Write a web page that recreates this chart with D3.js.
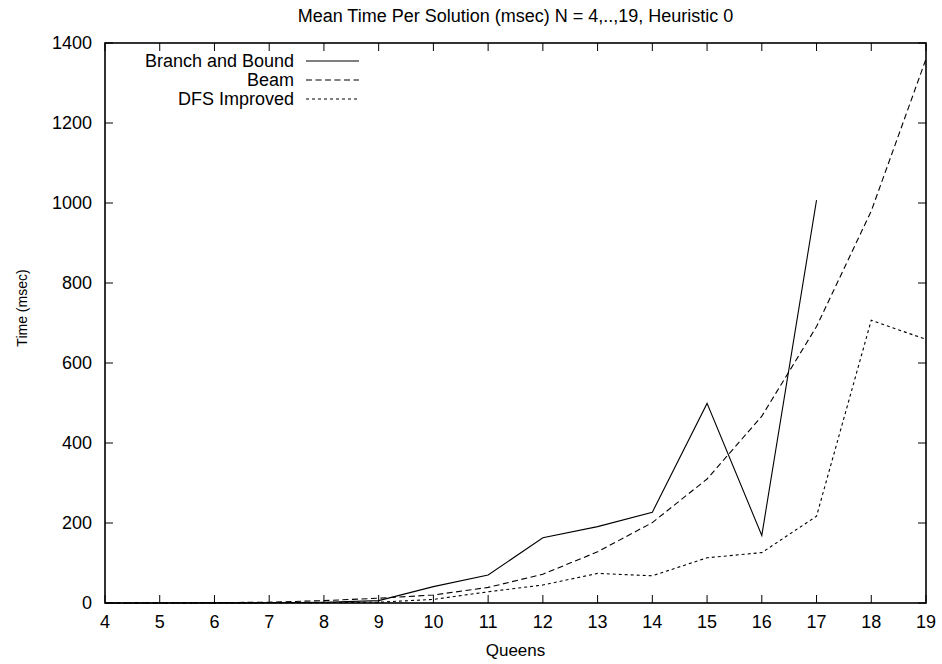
<!DOCTYPE html>
<html>
<head>
<meta charset="utf-8">
<script src="https://d3js.org/d3.v7.min.js"></script>
<style>
  body { margin: 0; background: #fff; }
  text { font-family: "Liberation Sans", Arial, sans-serif; fill: #000; }
  .line { fill: none; stroke: #000; stroke-width: 1.1px; }
</style>
</head>
<body>
<script>
// the data
var queens = [4, 5, 6, 7, 8, 9, 10, 11, 12, 13, 14, 15, 16, 17, 18, 19];
var branchAndBound = [0, 0, 0.2, 0.5, 2, 6, 41, 70, 163, 191, 227, 499, 169, 1007];
var beam = [0.1, 0.3, 1, 2, 6, 12, 20, 39, 72, 128, 201, 310, 467, 691, 980, 1360];
var dfsImproved = [0, 0.1, 0.2, 0.5, 1, 2, 9, 28, 45, 74, 68, 113, 126, 217, 707, 659];
var xTicks = [4, 5, 6, 7, 8, 9, 10, 11, 12, 13, 14, 15, 16, 17, 18, 19];
var yTicks = [0, 200, 400, 600, 800, 1000, 1200, 1400];

var seriesNames = ["Branch and Bound", "Beam", "DFS Improved"];
var seriesValues = [branchAndBound, beam, dfsImproved];
var seriesDash = ["none", "6,3.5", "3,3"];

// set the dimensions and margins of the graph
var margin = {top: 43, right: 16, bottom: 61, left: 105},
    width = 942 - margin.left - margin.right,
    height = 664 - margin.top - margin.bottom;

// set the ranges
var x = d3.scaleLinear().domain([4, 19]).range([0, width]);
var y = d3.scaleLinear().domain([0, 1400]).range([height, 0]);

// define the line
var line = d3.line()
    .x(function(d) { return x(d.q); })
    .y(function(d) { return y(d.v); });

var svg = d3.select("body").append("svg")
    .attr("width", 942)
    .attr("height", 664);

var g = svg.append("g")
    .attr("transform", "translate(" + margin.left + "," + margin.top + ")");

// title
svg.append("text")
    .attr("x", margin.left + width / 2)
    .attr("y", 22)
    .attr("text-anchor", "middle")
    .style("font-size", "18px")
    .text("Mean Time Per Solution (msec) N = 4,..,19, Heuristic 0");

// ticks on all four sides, pointing inward
var tick = 8;
xTicks.forEach(function(t) {
  g.append("line").attr("x1", x(t)).attr("x2", x(t)).attr("y1", height).attr("y2", height - tick)
      .attr("stroke", "#000");
  g.append("line").attr("x1", x(t)).attr("x2", x(t)).attr("y1", 0).attr("y2", tick)
      .attr("stroke", "#000");
  g.append("text")
      .attr("x", x(t))
      .attr("y", height + 25)
      .attr("text-anchor", "middle")
      .style("font-size", "18px")
      .text(t);
});
yTicks.forEach(function(t) {
  g.append("line").attr("x1", 0).attr("x2", tick).attr("y1", y(t)).attr("y2", y(t))
      .attr("stroke", "#000");
  g.append("line").attr("x1", width).attr("x2", width - tick).attr("y1", y(t)).attr("y2", y(t))
      .attr("stroke", "#000");
  g.append("text")
      .attr("x", -13)
      .attr("y", y(t))
      .attr("dy", "0.35em")
      .attr("text-anchor", "end")
      .style("font-size", "18px")
      .text(t);
});

// frame
g.append("rect")
    .attr("width", width)
    .attr("height", height)
    .attr("fill", "none")
    .attr("stroke", "#000")
    .attr("stroke-width", 1.6);

// axis labels
svg.append("text")
    .attr("x", margin.left + width / 2)
    .attr("y", 656)
    .attr("text-anchor", "middle")
    .style("font-size", "17px")
    .text("Queens");

svg.append("text")
    .attr("transform", "translate(27," + (margin.top + height / 2 - 15) + ") rotate(-90)")
    .attr("text-anchor", "middle")
    .style("font-size", "14px")
    .text("Time (msec)");

// draw the lines
seriesValues.forEach(function(vals, i) {
  var pts = vals.map(function(v, j) { return {q: queens[j], v: v}; });
  g.append("path")
      .datum(pts)
      .attr("class", "line")
      .attr("d", line)
      .style("stroke-dasharray", seriesDash[i]);
});

// legend
seriesNames.forEach(function(name, i) {
  var ly = 61 + i * 19;
  svg.append("text")
      .attr("x", 294)
      .attr("y", ly)
      .attr("dy", "0.35em")
      .attr("text-anchor", "end")
      .style("font-size", "18px")
      .text(name);
  svg.append("line")
      .attr("class", "line")
      .attr("x1", 306).attr("x2", 359)
      .attr("y1", ly).attr("y2", ly)
      .style("stroke-dasharray", seriesDash[i]);
});
</script>
</body>
</html>
